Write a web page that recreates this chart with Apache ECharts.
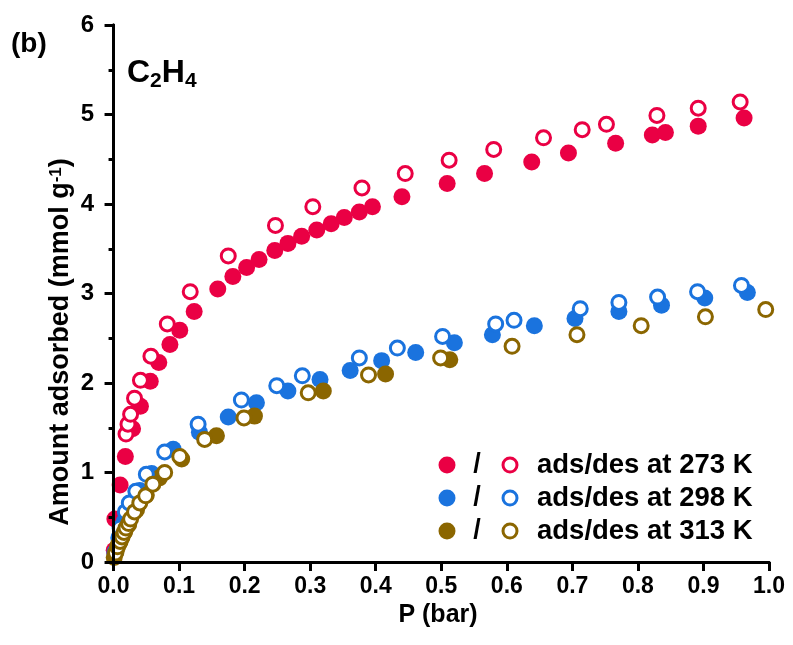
<!DOCTYPE html>
<html>
<head>
<meta charset="utf-8">
<script src="https://cdn.jsdelivr.net/npm/echarts@6/dist/echarts.min.js"></script>
<style>
  html, body { margin: 0; padding: 0; background: #fff; }
  #chart { width: 793px; height: 645px; }
</style>
</head>
<body>
<div id="chart"></div>
<script>
// C2H4 adsorption / desorption isotherms
const COLORS = { k273: '#EA0044', k298: '#1A73DE', k313: '#8B6600' };

const xTicks = [0.0, 0.1, 0.2, 0.3, 0.4, 0.5, 0.6, 0.7, 0.8, 0.9, 1.0];
const yTicks = [0, 1, 2, 3, 4, 5, 6];

// 273 K
const ads273P = [0.001, 0.002, 0.010, 0.018, 0.029, 0.041, 0.056, 0.069, 0.086, 0.101, 0.123, 0.159, 0.182, 0.203, 0.222, 0.246, 0.266, 0.287, 0.310, 0.332, 0.352, 0.375, 0.395, 0.440, 0.509, 0.566, 0.638, 0.694, 0.766, 0.822, 0.842, 0.892, 0.962];
const ads273Q = [0.13, 0.48, 0.86, 1.18, 1.49, 1.74, 2.02, 2.23, 2.43, 2.59, 2.80, 3.05, 3.19, 3.29, 3.38, 3.48, 3.56, 3.64, 3.71, 3.78, 3.85, 3.91, 3.97, 4.08, 4.23, 4.34, 4.47, 4.57, 4.68, 4.77, 4.80, 4.87, 4.96];
const des273P = [0.019, 0.022, 0.026, 0.032, 0.041, 0.057, 0.082, 0.117, 0.175, 0.247, 0.304, 0.379, 0.445, 0.512, 0.580, 0.656, 0.715, 0.752, 0.829, 0.892, 0.956];
const des273Q = [1.43, 1.54, 1.65, 1.83, 2.03, 2.30, 2.66, 3.02, 3.42, 3.76, 3.97, 4.18, 4.34, 4.49, 4.61, 4.74, 4.83, 4.89, 4.99, 5.07, 5.14];

// 298 K
const ads298P = [0.002, 0.008, 0.016, 0.027, 0.040, 0.058, 0.091, 0.131, 0.175, 0.218, 0.266, 0.315, 0.361, 0.409, 0.461, 0.520, 0.578, 0.642, 0.704, 0.771, 0.836, 0.902, 0.967];
const ads298Q = [0.10, 0.27, 0.45, 0.63, 0.80, 0.99, 1.26, 1.45, 1.62, 1.78, 1.91, 2.04, 2.14, 2.25, 2.34, 2.45, 2.54, 2.64, 2.72, 2.80, 2.87, 2.95, 3.01];
const des298P = [0.003, 0.010, 0.018, 0.024, 0.034, 0.050, 0.078, 0.129, 0.195, 0.249, 0.288, 0.375, 0.433, 0.502, 0.583, 0.611, 0.712, 0.771, 0.830, 0.891, 0.958];
const des298Q = [0.12, 0.38, 0.56, 0.66, 0.79, 0.98, 1.23, 1.54, 1.81, 1.97, 2.08, 2.28, 2.39, 2.52, 2.66, 2.70, 2.83, 2.90, 2.96, 3.02, 3.09];

// 313 K
const ads313P = [0.001, 0.004, 0.008, 0.012, 0.017, 0.023, 0.035, 0.050, 0.070, 0.104, 0.157, 0.215, 0.320, 0.415, 0.513];
const ads313Q = [0.05, 0.12, 0.20, 0.27, 0.34, 0.42, 0.58, 0.75, 0.94, 1.15, 1.41, 1.63, 1.91, 2.10, 2.26];
const des313P = [0.003, 0.006, 0.010, 0.013, 0.016, 0.019, 0.023, 0.026, 0.032, 0.040, 0.049, 0.060, 0.078, 0.101, 0.139, 0.199, 0.297, 0.389, 0.499, 0.608, 0.707, 0.805, 0.903, 0.995];
const des313Q = [0.10, 0.17, 0.23, 0.28, 0.33, 0.38, 0.43, 0.48, 0.56, 0.66, 0.74, 0.87, 1.00, 1.18, 1.37, 1.61, 1.89, 2.09, 2.28, 2.41, 2.54, 2.64, 2.74, 2.82];

const legendRows = [
  { key: 'k273', text: 'ads/des at 273 K' },
  { key: 'k298', text: 'ads/des at 298 K' },
  { key: 'k313', text: 'ads/des at 313 K' }
];

const FONT = '"Liberation Sans", Arial, sans-serif';
const pairs = (xs, ys) => xs.map((x, i) => [x, ys[i]]);

function filled(name, xs, ys, color) {
  return {
    name, type: 'scatter', data: pairs(xs, ys), symbol: 'circle', symbolSize: 17,
    itemStyle: { color: color, opacity: 1 }, z: 2, clip: false
  };
}
function hollow(name, xs, ys, color) {
  return {
    name, type: 'scatter', data: pairs(xs, ys), symbol: 'circle', symbolSize: 14,
    itemStyle: { color: '#fff', borderColor: color, borderWidth: 3, opacity: 1 }, z: 3, clip: false
  };
}

const chart = echarts.init(document.getElementById('chart'), null, { renderer: 'canvas' });

const axisLine = { show: true, lineStyle: { color: '#000', width: 3 } };

const legendGraphics = [];
legendRows.forEach((r, i) => {
  const cy = 465 + i * 33;
  legendGraphics.push(
    { type: 'circle', shape: { cx: 447, cy: cy, r: 8.5 }, style: { fill: COLORS[r.key] }, z: 20 },
    { type: 'text', x: 477, y: cy, style: { text: '/', font: 'bold 27px ' + FONT, fill: '#000', textAlign: 'center', textVerticalAlign: 'middle' }, z: 20 },
    { type: 'circle', shape: { cx: 510, cy: cy, r: 7 }, style: { fill: '#fff', stroke: COLORS[r.key], lineWidth: 3 }, z: 20 },
    { type: 'text', x: 537, y: cy, style: { text: r.text, font: 'bold 27.5px ' + FONT, fill: '#000', textAlign: 'left', textVerticalAlign: 'middle' }, z: 20 }
  );
});

chart.setOption({
  animation: false,
  backgroundColor: '#fff',
  grid: { left: 107, right: 24, top: 25, bottom: 83, show: false },
  xAxis: [{
    type: 'value', min: -0.01, max: 1.0, z: 10,
    name: 'P (bar)', nameLocation: 'middle', nameGap: 30,
    nameTextStyle: { fontFamily: FONT, fontWeight: 'bold', fontSize: 25, color: '#000' },
    axisLine: axisLine,
    axisTick: { show: true, length: 9, inside: false, lineStyle: { color: '#000', width: 3 }, customValues: xTicks },
    axisLabel: { show: true, margin: 13, fontFamily: FONT, fontWeight: 'bold', fontSize: 23, color: '#000',
      customValues: xTicks, formatter: v => v.toFixed(1) },
    splitLine: { show: false }
  }, {
    type: 'value', min: -0.01, max: 1.0, position: 'top', z: 10,
    axisLine: axisLine, axisTick: { show: false }, axisLabel: { show: false }, splitLine: { show: false }
  }],
  yAxis: [{
    type: 'value', min: 0, max: 6, interval: 1, z: 10,
    axisLine: axisLine,
    axisTick: { show: true, length: 9, lineStyle: { color: '#000', width: 3 } },
    minorTick: { show: true, splitNumber: 2, length: 5, lineStyle: { color: '#000', width: 3 } },
    axisLabel: { show: true, margin: 13, fontFamily: FONT, fontWeight: 'bold', fontSize: 24, color: '#000',
      customValues: yTicks, formatter: v => String(v) },
    splitLine: { show: false }, minorSplitLine: { show: false }
  }, {
    type: 'value', min: 0, max: 6, interval: 1, position: 'right', z: 10,
    axisLine: axisLine, axisTick: { show: false }, axisLabel: { show: false }, splitLine: { show: false }
  }],
  series: [
    filled('273 K ads', ads273P, ads273Q, COLORS.k273),
    hollow('273 K des', des273P, des273Q, COLORS.k273),
    filled('298 K ads', ads298P, ads298Q, COLORS.k298),
    hollow('298 K des', des298P, des298Q, COLORS.k298),
    filled('313 K ads', ads313P, ads313Q, COLORS.k313),
    hollow('313 K des', des313P, des313Q, COLORS.k313)
  ],
  graphic: [
    { type: 'text', x: 11, y: 44, style: { text: '(b)', font: 'bold 28px ' + FONT, fill: '#000', textVerticalAlign: 'middle' }, z: 20 },
    { type: 'text', x: 127, y: 73, z: 20,
      style: { text: 'C{s|2}H{s|4}', font: 'bold 32px ' + FONT, fill: '#000', textVerticalAlign: 'middle',
        rich: { s: { font: 'bold 21px ' + FONT, fill: '#000', padding: [17, 0, 0, 0] } } } },
    { type: 'text', x: 61, y: 342, rotation: Math.PI / 2, z: 20,
      style: { text: 'Amount adsorbed (mmol g{sup|-1})', font: 'bold 27px ' + FONT, fill: '#000',
        textAlign: 'center', textVerticalAlign: 'middle',
        rich: { sup: { font: 'bold 17px ' + FONT, fill: '#000', verticalAlign: 'top' } } } }
  ].concat(legendGraphics)
});
</script>
</body>
</html>
